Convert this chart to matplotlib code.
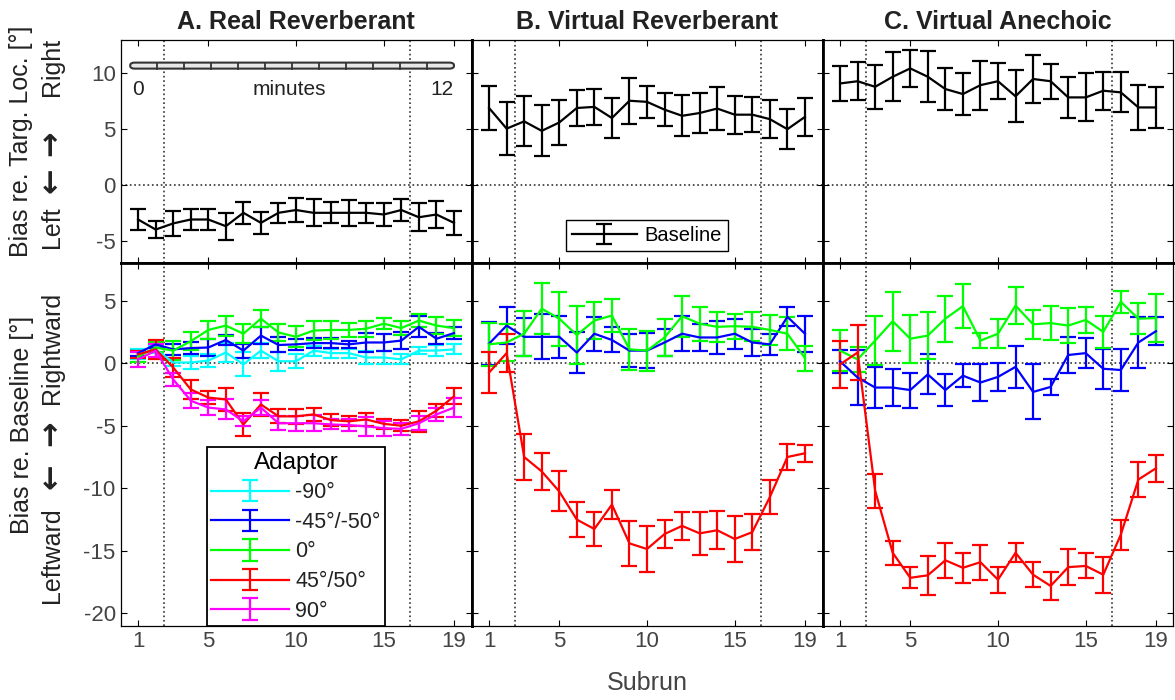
import numpy as np
import matplotlib
matplotlib.use('Agg')
import matplotlib.pyplot as plt
from matplotlib.patches import FancyBboxPatch

plt.rcParams['font.family'] = ['Liberation Sans', 'DejaVu Sans']
plt.rcParams['axes.unicode_minus'] = False

# --- Datos ---
subrun = np.arange(1, 20)
titulos = ['A. Real Reverberant', 'B. Virtual Reverberant', 'C. Virtual Anechoic']

# Sesgo de base (panel superior)
base_A = [-3.1, -4.0, -3.45, -3.1, -3.1, -3.7, -2.5, -3.4, -2.5, -2.25, -2.5, -2.5, -2.5, -2.5, -2.65, -2.25, -2.9, -2.65, -3.4]
base_A_err = [0.95, 0.8, 1.1, 0.9, 0.9, 1.2, 1.0, 1.0, 0.9, 1.05, 1.2, 0.95, 1.15, 0.9, 1.05, 0.95, 1.25, 1.2, 1.05]
base_B = [6.9, 5.05, 5.7, 4.85, 5.6, 6.9, 7.0, 6.0, 7.55, 7.45, 6.75, 6.2, 6.45, 6.85, 6.3, 6.3, 5.9, 5.0, 6.1]
base_B_err = [2.0, 2.4, 2.25, 2.3, 2.05, 1.6, 1.6, 1.8, 2.05, 1.45, 1.45, 1.85, 1.8, 1.9, 1.7, 1.55, 1.7, 1.8, 1.7]
base_C = [9.1, 9.3, 8.8, 9.7, 10.45, 9.7, 8.6, 8.15, 8.95, 9.3, 7.95, 9.5, 9.3, 7.85, 7.85, 8.45, 8.3, 6.95, 6.95]
base_C_err = [1.55, 1.7, 2.0, 2.2, 1.65, 2.3, 1.85, 1.9, 2.2, 1.6, 2.35, 2.15, 1.55, 1.85, 2.15, 1.7, 1.8, 2.0, 1.85]

# Sesgo respecto a la base (panel inferior), por adaptador
A_m90 = [0.7, 1.1, 0.05, 0.05, 0.2, 0.85, -0.1, 1.0, 0.15, 0.15, 1.0, 0.8, 0.8, 0.45, 0.45, 0.3, 1.0, 1.0, 1.1]
A_m90_err = [0.4, 0.3, 0.3, 0.55, 0.5, 0.75, 0.95, 0.6, 0.75, 0.55, 0.4, 0.35, 0.35, 0.55, 0.55, 0.4, 0.3, 0.45, 0.4]
A_m45 = [0.8, 1.5, 1.1, 1.2, 1.25, 1.85, 1.0, 2.2, 1.45, 1.5, 1.6, 1.6, 1.5, 1.65, 1.65, 1.8, 2.9, 1.95, 2.4]
A_m45_err = [0.2, 0.3, 0.45, 0.5, 0.65, 0.4, 0.55, 0.65, 0.6, 0.45, 0.4, 0.4, 0.3, 0.75, 0.7, 0.65, 0.85, 0.45, 0.5]
A_0 = [0.5, 1.25, 1.0, 1.75, 2.65, 3.0, 2.35, 3.55, 2.45, 2.1, 2.6, 2.65, 2.65, 2.75, 3.15, 2.8, 3.4, 3.0, 2.8]
A_0_err = [0.4, 0.4, 0.75, 0.7, 0.7, 0.8, 0.75, 0.7, 0.7, 0.85, 0.75, 0.7, 0.55, 0.65, 0.45, 0.55, 0.55, 0.7, 0.65]
A_45 = [0.7, 1.1, -0.35, -2.1, -2.75, -2.9, -4.9, -3.3, -4.25, -4.25, -4.1, -4.55, -4.65, -4.5, -4.85, -5.0, -4.65, -3.8, -2.65]
A_45_err = [0.3, 0.75, 0.75, 0.75, 0.5, 0.9, 0.9, 0.95, 0.55, 0.6, 0.55, 0.5, 0.4, 0.55, 0.4, 0.45, 0.85, 0.5, 0.65]
A_90 = [0.3, 1.0, -1.3, -3.0, -3.55, -3.7, -4.65, -3.55, -4.8, -4.8, -4.8, -4.9, -4.95, -5.05, -5.2, -5.25, -4.8, -4.1, -3.55]
A_90_err = [0.6, 0.5, 0.55, 0.6, 0.6, 0.8, 0.4, 0.6, 0.55, 0.6, 0.65, 0.4, 0.45, 0.75, 0.6, 0.5, 0.55, 0.5, 0.75]

B_m45 = [1.55, 3.0, 2.1, 2.1, 2.1, 0.85, 2.35, 1.85, 1.0, 1.0, 1.65, 2.35, 2.05, 2.05, 2.35, 1.65, 1.5, 3.7, 2.35]
B_m45_err = [1.7, 1.5, 1.5, 1.8, 1.7, 1.6, 1.35, 1.0, 1.3, 1.4, 1.1, 1.4, 1.1, 1.3, 1.2, 1.05, 0.85, 0.75, 1.45]
B_0 = [1.5, 1.65, 2.35, 4.35, 3.55, 2.25, 3.4, 3.8, 1.1, 1.0, 2.05, 3.75, 3.15, 2.9, 2.95, 2.9, 2.65, 2.35, 0.4]
B_0_err = [1.7, 1.5, 1.8, 2.05, 2.15, 2.3, 1.5, 1.35, 1.65, 1.6, 1.5, 1.65, 1.35, 1.2, 1.0, 1.15, 1.2, 1.3, 1.0]
B_45 = [-0.75, 0.8, -7.5, -8.65, -10.25, -12.5, -13.25, -11.3, -14.4, -14.85, -13.65, -13.0, -13.6, -13.35, -14.05, -13.5, -10.7, -7.5, -7.2]
B_45_err = [1.65, 1.5, 1.8, 1.5, 1.6, 1.4, 1.35, 1.15, 1.8, 1.85, 1.15, 1.1, 1.7, 1.5, 1.8, 1.45, 1.35, 1.05, 0.7]

C_m45 = [0.15, -1.15, -1.95, -1.95, -2.15, -0.9, -2.15, -1.0, -1.55, -1.1, -0.3, -2.3, -1.9, 0.65, 0.8, -0.45, -0.55, 1.65, 2.55]
C_m45_err = [0.9, 2.2, 1.65, 1.5, 1.4, 1.6, 1.25, 0.9, 1.5, 1.1, 1.65, 2.2, 0.65, 1.45, 1.2, 1.6, 1.7, 2.05, 1.1]
C_0 = [1.0, 0.3, 1.8, 3.35, 1.95, 2.2, 3.55, 4.55, 1.8, 2.35, 4.6, 3.1, 3.2, 3.0, 3.45, 2.5, 4.9, 3.55, 3.6]
C_0_err = [1.65, 1.0, 1.95, 2.35, 1.9, 1.9, 1.85, 1.75, 0.6, 1.15, 1.45, 1.15, 1.35, 1.4, 1.05, 1.3, 0.9, 1.25, 1.9]
C_45 = [-0.1, 0.85, -10.2, -15.15, -17.15, -16.95, -15.75, -16.35, -15.9, -17.3, -15.15, -16.9, -17.8, -16.3, -16.2, -16.9, -13.7, -9.3, -8.4]
C_45_err = [1.85, 2.2, 1.35, 0.95, 0.85, 1.55, 1.4, 1.2, 1.4, 1.05, 0.75, 1.0, 1.15, 1.45, 1.0, 1.45, 1.2, 1.4, 1.1]

etiquetas_adaptor = ['-90°', '-45°/-50°', '0°', '45°/50°', '90°']
colores_adaptor = ['#00ffff', '#0000ff', '#00ff00', '#ff0000', '#ff00ff']

# --- Figura ---
fig = plt.figure(figsize=(11.75, 7), dpi=100)
izq, ancho = 0.1026, 0.2987
ax_sup = [fig.add_axes([izq + i * ancho, 0.6243, ancho, 0.3186]) for i in range(3)]
ax_inf = [fig.add_axes([izq + i * ancho, 0.1057, ancho, 0.5186]) for i in range(3)]

gris = '#444444'
estilo = dict(lw=1.6, elinewidth=1.6, capsize=5.5, capthick=1.6)

for i, ax in enumerate(ax_sup + ax_inf):
    ax.set_xlim(0, 20)
    ax.set_xticks([1, 5, 10, 15, 19])
    ax.axhline(0, color='#333333', ls=':', lw=1.2, zorder=0)
    for xv in (2.5, 16.5):
        ax.axvline(xv, color='#333333', ls=':', lw=1.2, zorder=0)
    ax.tick_params(direction='in', top=True, right=True, length=4, width=0.8,
                   labelsize=16, labelcolor=gris)
    for s in ax.spines.values():
        s.set_linewidth(0.9)

for i, ax in enumerate(ax_sup):
    ax.set_ylim(-7, 13)
    ax.set_yticks([-5, 0, 5, 10])
    ax.tick_params(labelbottom=False)
    ax.set_title(titulos[i], fontsize=18, fontweight='bold', pad=8, color='#222222')
    ax.spines['bottom'].set_linewidth(2)
    if i > 0:
        ax.tick_params(labelleft=False)
        ax.spines['left'].set_linewidth(2)
    if i < 2:
        ax.spines['right'].set_linewidth(2)

for i, ax in enumerate(ax_inf):
    ax.set_ylim(-21, 8)
    ax.set_yticks([-20, -15, -10, -5, 0, 5])
    ax.spines['top'].set_linewidth(2)
    if i > 0:
        ax.tick_params(labelleft=False)
        ax.spines['left'].set_linewidth(2)
    if i < 2:
        ax.spines['right'].set_linewidth(2)

# Panel superior: base
for ax, m, e in zip(ax_sup, [base_A, base_B, base_C], [base_A_err, base_B_err, base_C_err]):
    ax.errorbar(subrun, m, yerr=e, color='black', label='Baseline', **estilo)
leg_b = ax_sup[1].legend(loc='lower center', bbox_to_anchor=(0.5, 0.054), borderaxespad=0,
                         fontsize=14.5, frameon=True, fancybox=False, edgecolor='black',
                         framealpha=1, handlelength=3.2, borderpad=0.3, handletextpad=0.4)
leg_b.get_frame().set_linewidth(1.0)

# Barra de tiempo (minutos) en el panel A
x0, x1, yb = 0.55, 19.0, 10.7
barra = FancyBboxPatch((x0, yb - 0.27), x1 - x0, 0.54,
                       boxstyle='round,pad=0,rounding_size=0.25',
                       facecolor='#e8e8e8', edgecolor='#333333', lw=1.5, zorder=3)
ax_sup[0].add_patch(barra)
minutos = np.arange(13)
for xm in np.linspace(x0, x1, len(minutos))[1:-1]:
    ax_sup[0].plot([xm, xm], [yb - 0.27, yb + 0.27], color='#333333', lw=1.3, zorder=4)
ax_sup[0].text(x0 + 0.1, 8.6, str(minutos[0]), fontsize=15, color='#222222', va='center')
ax_sup[0].text(x1, 8.6, str(minutos[-1]), fontsize=15, color='#222222', va='center', ha='right')
ax_sup[0].text(9.6, 8.6, 'minutes', fontsize=15, color='#222222', va='center', ha='center')

# Panel inferior: adaptadores
datos_A = [(A_m90, A_m90_err), (A_m45, A_m45_err), (A_0, A_0_err), (A_45, A_45_err), (A_90, A_90_err)]
for (m, e), c, lab in zip(datos_A, colores_adaptor, etiquetas_adaptor):
    ax_inf[0].errorbar(subrun, m, yerr=e, color=c, label=lab, **estilo)
for ax, datos in zip(ax_inf[1:], [[(B_m45, B_m45_err), (B_0, B_0_err), (B_45, B_45_err)],
                                  [(C_m45, C_m45_err), (C_0, C_0_err), (C_45, C_45_err)]]):
    for (m, e), c in zip(datos, colores_adaptor[1:4]):
        ax.errorbar(subrun, m, yerr=e, color=c, **estilo)

leg = ax_inf[0].legend(loc='lower center', bbox_to_anchor=(0.5, 0.0), borderaxespad=0,
                       title='Adaptor', title_fontsize=17.5, fontsize=15.5, frameon=True,
                       fancybox=False, edgecolor='black', framealpha=1,
                       handlelength=3.6, labelspacing=0.4, borderpad=0.2,
                       handletextpad=0.3)
leg.get_frame().set_linewidth(1.3)
for t in leg.get_texts():
    t.set_color('#222222')

# Etiquetas de los ejes
fig.text(0.551, 1 - 683 / 700, 'Subrun', fontsize=18, color=gris, ha='center', va='center')

def etiqueta_y(piezas):
    for x, y, txt, peso, tam in piezas:
        fig.text(x / 1175, 1 - y / 700, txt, rotation=90, fontsize=tam, fontweight=peso,
                 color='#222222', ha='center', va='center',
                 family=['DejaVu Sans'] if peso == 'bold' else None)

etiqueta_y([(21, 141, 'Bias re. Targ. Loc. [°]', 'normal', 18),
            (52, 67, 'Right', 'normal', 18), (52, 143, '→', 'bold', 22),
            (52, 180, '←', 'bold', 22), (52, 227, 'Left', 'normal', 18)])
etiqueta_y([(22, 425, 'Bias re. Baseline [°]', 'normal', 18),
            (52, 348, 'Rightward', 'normal', 18), (52, 433, '→', 'bold', 22),
            (52, 476, '←', 'bold', 22), (52, 555, 'Leftward', 'normal', 18)])

fig.savefig('out.png', dpi=100)
